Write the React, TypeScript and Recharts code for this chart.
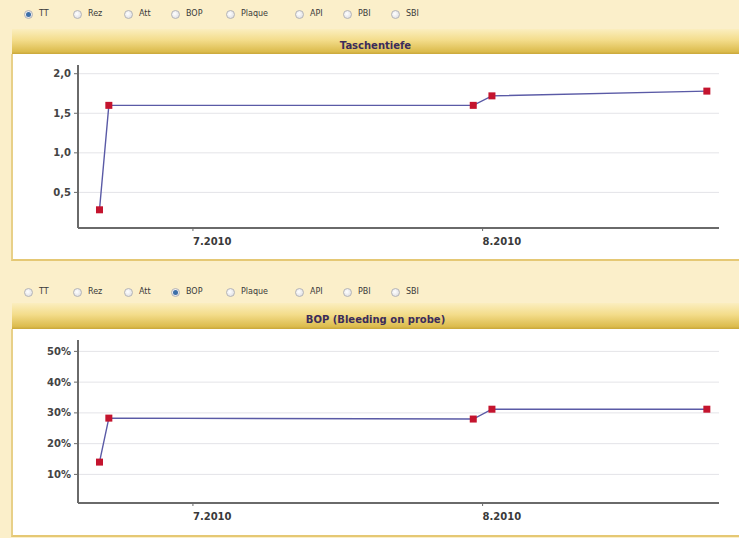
import React from "react";
import {
  LineChart,
  Line,
  XAxis,
  YAxis,
  CartesianGrid,
} from "recharts";

// visit dates and readings
const visitDates = ["2010-06-21", "2010-06-22", "2010-07-31", "2010-08-02", "2010-08-25"];
const pocketDepth = [0.28, 1.6, 1.6, 1.72, 1.78];
const bopPercent = [14, 28.3, 28, 31.2, 31.2];
const monthTicks = ["2010-07-01", "2010-08-01"];
const depthTicks = [0.5, 1, 1.5, 2];
const bopTicks = [10, 20, 30, 40, 50];
const radioLabels = ["TT", "Rez", "Att", "BOP", "Plaque", "API", "PBI", "SBI"];

const toTs = (s: string) => {
  const [y, m, d] = s.split("-").map(Number);
  return Date.UTC(y, m - 1, d);
};
const DAY = 86400000;
const xDomain = [toTs("2010-06-18") + 0.7 * DAY, toTs("2010-08-26") + 0.3 * DAY];

const depthData = visitDates.map((d, i) => ({ t: toTs(d), v: pocketDepth[i] }));
const bopData = visitDates.map((d, i) => ({ t: toTs(d), v: bopPercent[i] }));

const radioX = [29, 78, 129, 176, 231, 300, 348, 396];
const FONT = "'DejaVu Sans', 'Liberation Sans', sans-serif";

function RadioRow({ top, selected }: { top: number; selected: string }) {
  return (
    <>
      {radioLabels.map((lbl, i) => (
        <div key={lbl} style={{ position: "absolute", left: radioX[i] - 5, top: top - 5, height: 10 }}>
          <div
            style={{
              position: "absolute",
              left: 0,
              top: 0,
              width: 9,
              height: 9,
              borderRadius: "50%",
              border: "1px solid #b4b4b8",
              background: "radial-gradient(circle at 40% 40%, #ffffff, #d8d8dc)",
              boxSizing: "border-box",
            }}
          >
            {lbl === selected && (
              <div
                style={{
                  position: "absolute",
                  left: 1,
                  top: 1,
                  width: 5,
                  height: 5,
                  borderRadius: "50%",
                  background: "#3d6fa8",
                }}
              />
            )}
          </div>
          <span
            style={{
              position: "absolute",
              left: 15,
              top: -1,
              fontSize: 8,
              fontFamily: FONT,
              color: "#3a3a3a",
              whiteSpace: "nowrap",
            }}
          >
            {lbl}
          </span>
        </div>
      ))}
    </>
  );
}

function TitleBand({ top, height, title }: { top: number; height: number; title: string }) {
  return (
    <div
      style={{
        position: "absolute",
        left: 12,
        top,
        width: 727,
        height,
        background: "linear-gradient(to bottom, #fbeebf 0%, #f3dc8a 45%, #dcbc4e 90%, #c9a73a 100%)",
        textAlign: "center",
        fontFamily: FONT,
        fontWeight: "bold",
        fontSize: 10,
        color: "#3b2c5a",
        lineHeight: `${height + 8}px`,
      }}
    >
      {title}
    </div>
  );
}

const monthTick = (props: any) => {
  const { x, y, payload } = props;
  const d = new Date(payload.value);
  return (
    <text
      x={x}
      y={y + 12}
      textAnchor="start"
      fontSize={10}
      fontWeight="bold"
      fontFamily={FONT}
      fill="#3a3a3a"
    >
      {`${d.getUTCMonth() + 1}.${d.getUTCFullYear()}`}
    </text>
  );
};

const squareDot = (props: any) => {
  const { cx, cy, index } = props;
  return <rect key={index} x={cx - 3.5} y={cy - 3.5} width={7} height={7} fill="#c4142e" />;
};

function Panel({
  data,
  domain,
  ticks,
  fmt,
}: {
  data: { t: number; v: number }[];
  domain: number[];
  ticks: number[];
  fmt: (v: number) => string;
}) {
  return (
    <LineChart width={726} height={204} data={data} margin={{ top: 10, right: 20, left: 0, bottom: 0 }}>
      <CartesianGrid vertical={false} stroke="#e4e4e8" horizontalValues={ticks} />
      <XAxis
        dataKey="t"
        type="number"
        scale="time"
        domain={xDomain}
        ticks={monthTicks.map(toTs)}
        tick={monthTick}
        height={31}
        tickSize={3}
        axisLine={{ stroke: "#6a6a6a", strokeWidth: 2 }}
        tickLine={{ stroke: "#6a6a6a" }}
        allowDataOverflow
      />
      <YAxis
        type="number"
        domain={domain}
        ticks={ticks}
        width={65}
        tickSize={4}
        tickMargin={3}
        tickFormatter={fmt}
        axisLine={{ stroke: "#6a6a6a", strokeWidth: 2 }}
        tickLine={{ stroke: "#6a6a6a" }}
        tick={{ fontSize: 10, fontWeight: "bold", fontFamily: FONT, fill: "#444" }}
        allowDataOverflow
      />
      <Line
        type="linear"
        dataKey="v"
        stroke="#5a5aa6"
        strokeWidth={1.4}
        dot={squareDot}
        activeDot={false}
        isAnimationActive={false}
      />
    </LineChart>
  );
}

export default function App() {
  return (
    <div
      style={{
        position: "absolute",
        left: 0,
        top: 0,
        width: 739,
        height: 538,
        background: "#fbefca",
        overflow: "hidden",
      }}
    >
      {/* panel 1: Taschentiefe */}
      <RadioRow top={15} selected="TT" />
      <TitleBand top={29} height={25} title="Taschentiefe" />
      <div
        style={{
          position: "absolute",
          left: 11,
          top: 54,
          width: 728,
          height: 207,
          background: "#fff",
          borderLeft: "2px solid #e8d088",
          borderBottom: "2px solid #e5c874",
          boxSizing: "border-box",
        }}
      >
        <div style={{ position: "absolute", left: 0, top: 1 }}>
          <Panel
            data={depthData}
            domain={[0.05, 2.11]}
            ticks={depthTicks}
            fmt={(v) => v.toFixed(1).replace(".", ",")}
          />
        </div>
      </div>

      {/* panel 2: BOP */}
      <RadioRow top={293} selected="BOP" />
      <TitleBand top={303} height={26} title="BOP (Bleeding on probe)" />
      <div
        style={{
          position: "absolute",
          left: 11,
          top: 329,
          width: 728,
          height: 208,
          background: "#fff",
          borderLeft: "2px solid #e8d088",
          borderBottom: "2px solid #e5c874",
          boxSizing: "border-box",
        }}
      >
        <div style={{ position: "absolute", left: 0, top: 1 }}>
          <Panel data={bopData} domain={[0.7, 53.7]} ticks={bopTicks} fmt={(v) => `${v}%`} />
        </div>
      </div>
    </div>
  );
}
